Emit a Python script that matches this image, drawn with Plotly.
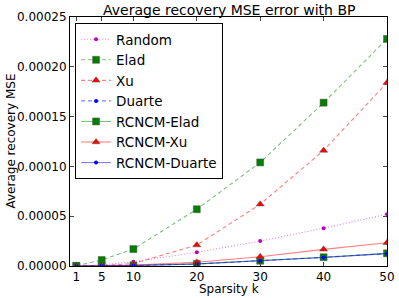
import plotly.graph_objects as go

k = [1, 5, 10, 20, 30, 40, 50]
random_v = [0.0000001, 0.0000012, 0.0000043, 0.0000137, 0.000025, 0.000038, 0.000052]
elad = [0.0000002, 0.000006, 0.000017, 0.000057, 0.000104, 0.000164, 0.000228]
xu = [0.0, 0.0000004, 0.0000025, 0.000021, 0.000062, 0.000116, 0.000184]
duarte = [0.0, 0.0000001, 0.0000005, 0.000002, 0.0000052, 0.0000087, 0.0000125]
rcncm_elad = [0.0, 0.0000001, 0.0000005, 0.0000021, 0.0000053, 0.0000088, 0.0000127]
rcncm_xu = [0.0, 0.0000002, 0.0000009, 0.0000038, 0.0000093, 0.0000167, 0.0000233]
rcncm_duarte = [0.0, 0.0000001, 0.0000005, 0.000002, 0.0000051, 0.0000086, 0.0000124]

x_ticks = [1, 5, 10, 20, 30, 40, 50]
y_ticks = [0, 0.00005, 0.0001, 0.00015, 0.0002, 0.00025]

series = [
    ("Random", random_v, "rgba(191,0,191,0.5)", "#bf00bf", "1px,2px", "circle", 4),
    ("Elad", elad, "rgba(0,128,0,0.5)", "#007f00", "4px,3px", "square", 7),
    ("Xu", xu, "rgba(255,0,0,0.5)", "#ff0000", "4px,3px", "triangle-up", 7),
    ("Duarte", duarte, "rgba(0,0,255,0.5)", "#0000ff", "4px,3px", "circle", 4),
    ("RCNCM-Elad", rcncm_elad, "rgba(0,128,0,0.5)", "#007f00", "solid", "square", 7),
    ("RCNCM-Xu", rcncm_xu, "rgba(255,0,0,0.5)", "#ff0000", "solid", "triangle-up", 7),
    ("RCNCM-Duarte", rcncm_duarte, "rgba(0,0,255,0.5)", "#0000ff", "solid", "circle", 4),
]

fig = go.Figure()
for name, ys, lc, mc, dash, sym, sz in series:
    fig.add_trace(go.Scatter(
        x=k, y=ys, name=name, mode="lines+markers",
        line=dict(color=lc, dash=dash, width=1.1),
        marker=dict(color=mc, symbol=sym, size=sz,
                    line=dict(color="rgba(80,80,80,0.6)", width=0.8 if sz > 5 else 0)),
    ))

W, H = 399, 298
L, R, T, B = 70, 12, 17, 32

fig.update_layout(
    width=W, height=H,
    margin=dict(l=L, r=R, t=T, b=B),
    paper_bgcolor="white", plot_bgcolor="white",
    font=dict(family="DejaVu Sans", size=12, color="black"),
    showlegend=True,
    legend=dict(x=0.016, y=0.976, xanchor="left", yanchor="top",
                bordercolor="black", borderwidth=1, bgcolor="white",
                font=dict(size=13.5), itemwidth=30, tracegroupgap=0),
    xaxis=dict(range=[0, 50], tickvals=x_ticks, ticks="inside", ticklen=4,
               showline=True, linecolor="black", linewidth=1, mirror="ticks",
               showgrid=False, zeroline=False, tickfont=dict(size=12),
               automargin=False),
    yaxis=dict(range=[0, 0.00025], tickvals=y_ticks, tickformat=".5f", ticks="inside", ticklen=4,
               showline=True, linecolor="black", linewidth=1, mirror="ticks",
               showgrid=False, zeroline=False, tickfont=dict(size=12),
               automargin=False),
    annotations=[
        dict(text="Average recovery MSE error with BP", xref="paper", yref="paper",
             x=0.5, y=1 + 7 / (H - T - B), xanchor="center", yanchor="middle",
             showarrow=False, font=dict(size=14)),
        dict(text="Sparsity k", xref="paper", yref="paper",
             x=0.5, y=-23 / (H - T - B), xanchor="center", yanchor="middle",
             showarrow=False, font=dict(size=12)),
        dict(text="Average recovery MSE", xref="paper", yref="paper",
             x=-60 / (W - L - R), y=0.5, xanchor="center", yanchor="middle",
             textangle=-90, showarrow=False, font=dict(size=12)),
    ],
)

fig.write_html("out.html", config={"displayModeBar": False},
               post_script="document.body.style.margin='0';")
